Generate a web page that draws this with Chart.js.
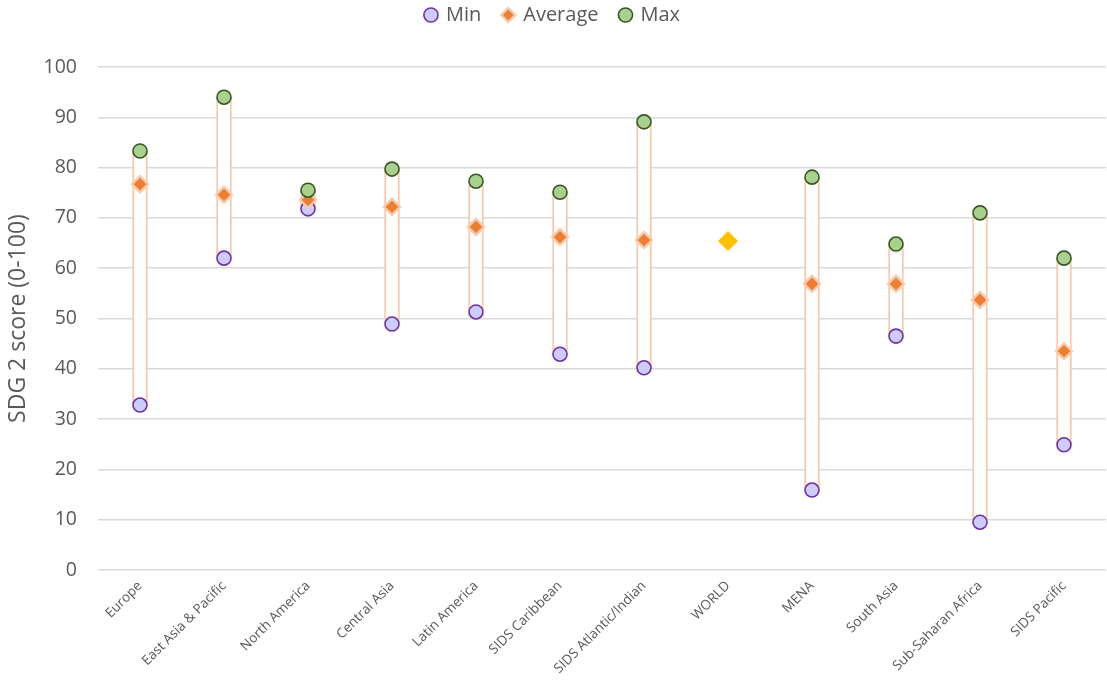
<!DOCTYPE html>
<html>
<head>
<meta charset="utf-8">
<script src="https://cdn.jsdelivr.net/npm/chart.js@4.4.1/dist/chart.umd.min.js"></script>
<style>
html,body{margin:0;padding:0;background:#fff;}
#wrap{width:1107px;height:680px;position:relative;}
</style>
</head>
<body>
<div id="wrap"><canvas id="c" width="1107" height="680"></canvas></div>
<script>
const categories = ["Europe","East Asia & Pacific","North America","Central Asia","Latin America","SIDS Caribbean","SIDS Atlantic/Indian","WORLD","MENA","South Asia","Sub-Saharan Africa","SIDS Pacific"];
const minValues = [32.8, 62.0, 71.8, 48.9, 51.3, 42.9, 40.2, null, 15.9, 46.5, 9.5, 24.9];
const avgValues = [76.7, 74.6, 73.6, 72.2, 68.2, 66.2, 65.6, null, 56.9, 56.9, 53.7, 43.5];
const maxValues = [83.3, 94.0, 75.5, 79.7, 77.3, 75.1, 89.1, null, 78.1, 64.8, 71.0, 62.0];
const worldValues = [null, null, null, null, null, null, null, 65.4, null, null, null, null];
const yTicks = [0,10,20,30,40,50,60,70,80,90,100];

const rangeValues = minValues.map((v, i) => (v === null || maxValues[i] === null) ? null : [v, maxValues[i]]);

const LEGEND_PAD = 22;
const LEGEND_FONT = 20;

const legendSpace = {
  id: 'legendSpace',
  beforeInit(chart) {
    const origFit = chart.legend.fit;
    chart.legend.fit = function () {
      origFit.bind(chart.legend)();
      this.height = 67;
    };
  },
  afterLayout(chart) {
    const shift = 15 - (LEGEND_PAD + LEGEND_FONT / 2);
    chart.legend.top += shift;
    chart.legend.bottom += shift;
  }
};

new Chart(document.getElementById('c'), {
  data: {
    labels: categories,
    datasets: [
      {
        type: 'line', label: 'Min', data: minValues, showLine: false, order: 3,
        pointStyle: 'circle', pointRadius: 7, pointHoverRadius: 7,
        backgroundColor: '#CCCCFF', borderColor: '#7030A0', borderWidth: 1.6
      },
      {
        type: 'line', label: 'Average', data: avgValues, showLine: false, order: 2,
        pointStyle: 'rectRot', pointRadius: 8, pointHoverRadius: 8,
        backgroundColor: '#ED7D31', borderColor: 'rgba(248,203,173,0.95)', borderWidth: 2.5
      },
      {
        type: 'line', label: 'Max', data: maxValues, showLine: false, order: 1,
        pointStyle: 'circle', pointRadius: 7, pointHoverRadius: 7,
        backgroundColor: '#A9D18E', borderColor: '#375623', borderWidth: 1.6
      },
      {
        type: 'bar', label: 'Range', data: rangeValues, order: 10,
        backgroundColor: '#FFFFFF', borderColor: '#F8CBAD', borderWidth: 2,
        borderSkipped: false, barThickness: 15, grouped: false
      },
      {
        type: 'line', label: 'WORLD', data: worldValues, showLine: false, order: 0,
        pointStyle: 'rectRot', pointRadius: 10, pointHoverRadius: 10,
        backgroundColor: '#FFC000', borderColor: '#FFC000', borderWidth: 0
      }
    ]
  },
  options: {
    responsive: false,
    animation: false,
    layout: { autoPadding: false, padding: { left: 0, right: 1, top: 0, bottom: 0 } },
    plugins: {
      tooltip: { enabled: false },
      legend: {
        position: 'top',
        labels: {
          usePointStyle: true,
          boxWidth: 10, boxHeight: 10,
          padding: LEGEND_PAD,
          color: '#595959',
          font: { family: 'Open Sans', size: LEGEND_FONT },
          filter: (item) => item.datasetIndex <= 2,
          sort: (a, b) => a.datasetIndex - b.datasetIndex
        }
      }
    },
    scales: {
      x: {
        type: 'category',
        offset: true,
        grid: { display: false },
        border: { display: false },
        ticks: {
          minRotation: 45, maxRotation: 45, autoSkip: false,
          padding: 0,
          color: '#595959',
          font: { family: 'Open Sans', size: 13.5 }
        },
        afterFit(scale) { scale.height = 110; scale.paddingRight = 0; scale.paddingLeft = 0; }
      },
      y: {
        min: 0, max: 100,
        afterBuildTicks(scale) { scale.ticks = yTicks.map(v => ({ value: v })); },
        grid: { color: '#D9D9D9', lineWidth: 1.5, drawTicks: false },
        border: { display: false },
        ticks: {
          padding: 21,
          color: '#595959',
          font: { family: 'Open Sans', size: 19.5 }
        },
        title: {
          display: true,
          text: 'SDG 2 score (0-100)',
          color: '#595959',
          font: { family: 'Open Sans', size: 23 },
          padding: { top: 5, bottom: 0 }
        },
        afterFit(scale) { scale.width = 98; }
      }
    }
  },
  plugins: [legendSpace]
});
</script>
</body>
</html>
